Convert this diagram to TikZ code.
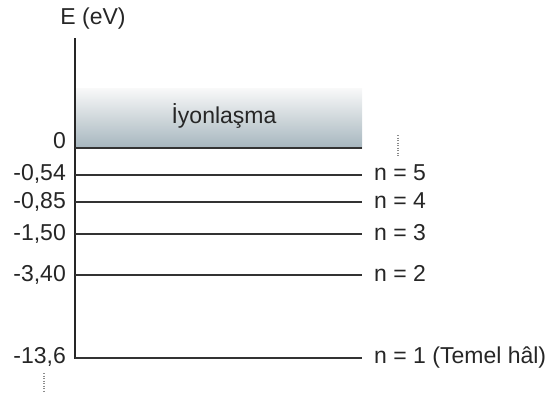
\documentclass[tikz,border=0pt]{standalone}
\usepackage{fontspec}
\setmainfont{Liberation Sans}
\begin{document}
\begin{tikzpicture}[x=1pt,y=-1pt,
  lbl/.style={inner sep=0pt,font=\fontsize{23}{27}\selectfont,text=black!85},
  lvl/.style={draw=black!80,line width=1.4pt},
  dotmark/.style={draw=black!45,line width=1.2pt,dash pattern=on 1.2pt off 1.3pt}]
\useasboundingbox (0,0) rectangle (556,397);
% ionization band
\shade[top color=white!95!gray, bottom color={rgb,255:red,166;green,182;blue,190}]
  (75,88) rectangle (362,148);
\node[lbl,anchor=base] (ion) at (224,123) {İyonlaşma};
% axis
\coordinate (atop) at (75,38);
\coordinate (abot) at (75,358.5);
\draw[black!85,line width=1.8pt] (atop) -- (abot);
\node[lbl,anchor=base] (E) at (93,24) {E (eV)};
% levels
\foreach \nm/\y in {l0/148,l5/175,l4/202,l3/234,l2/275}{
  \coordinate (\nm a) at (75,\y);
  \coordinate (\nm b) at (362,\y);
  \draw[lvl] (\nm a) -- (\nm b);
}
\coordinate (l1a) at (75,358);
\coordinate (l1b) at (362,358);
\draw[lvl,line width=1.9pt] (l1a) -- (l1b);
% left labels
\node[lbl,anchor=base east] (v0) at (66,148) {0};
\node[lbl,anchor=base east] (v5) at (66,180.5) {-0,54};
\node[lbl,anchor=base east] (v4) at (66,208.5) {-0,85};
\node[lbl,anchor=base east] (v3) at (66,240) {-1,50};
\node[lbl,anchor=base east] (v2) at (66,281.5) {-3,40};
\node[lbl,anchor=base east] (v1) at (66,363.5) {-13,6};
% right labels
\node[lbl,anchor=base west] (n5) at (374,180.5) {n = 5};
\node[lbl,anchor=base west] (n4) at (374,208.5) {n = 4};
\node[lbl,anchor=base west] (n3) at (374,240) {n = 3};
\node[lbl,anchor=base west] (n2) at (374,281.5) {n = 2};
\node[lbl,anchor=base west] (n1) at (374,363.5) {n = 1 (Temel hâl)};
% small dotted marks
\coordinate (m1a) at (398,135);
\coordinate (m1b) at (398,156);
\draw[dotmark] (m1a) -- (m1b);
\coordinate (m2a) at (44,373);
\coordinate (m2b) at (44,392);
\draw[dotmark] (m2a) -- (m2b);
\end{tikzpicture}
\end{document}
